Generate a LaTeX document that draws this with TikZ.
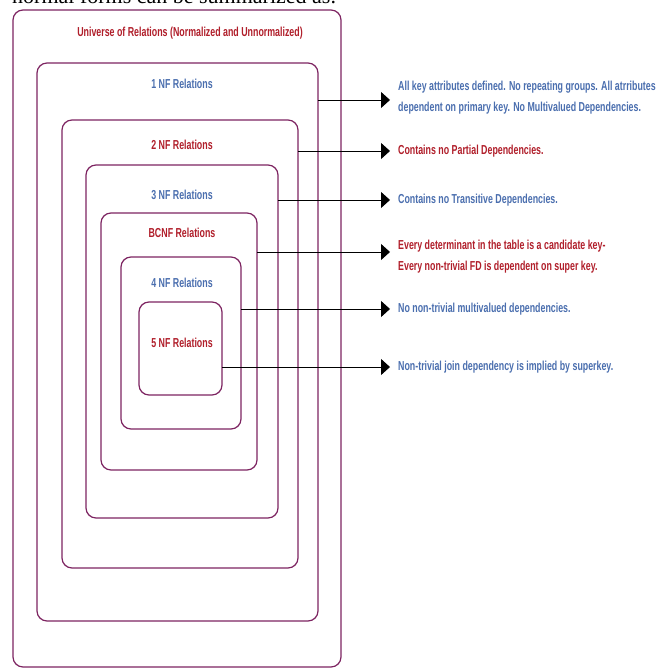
\documentclass[tikz,border=0pt]{standalone}
\usepackage{fontspec}
\setmainfont{Liberation Serif}
\newfontfamily\narrowsans[FakeStretch=0.68]{Liberation Sans Bold}
\usepackage{xcolor}
\usetikzlibrary{arrows.meta}
\definecolor{boxpurple}{HTML}{7D2461}
\definecolor{nfblue}{HTML}{4A6EAE}
\definecolor{nfred}{HTML}{B01E2A}
\tikzset{
  relbox/.style={draw=boxpurple, line width=1.2pt, rounded corners=10pt, inner sep=0pt, outer sep=0pt},
  redlbl/.style={text=nfred, font=\narrowsans\fontsize{13}{15}\selectfont, inner sep=0pt},
  bluelbl/.style={text=nfblue, font=\narrowsans\fontsize{13}{15}\selectfont, inner sep=0pt},
  desc/.style={anchor=west, align=left, inner xsep=8pt, inner ysep=0pt, font=\narrowsans\fontsize{13}{21}\selectfont},
  conn/.style={-{Triangle[length=9pt,width=16pt]}, line width=0.9pt, black},
}
\begin{document}
\begin{tikzpicture}[x=1pt, y=-1pt]
  \useasboundingbox (0,0) rectangle (672,668);
  \node[anchor=base west, inner sep=0pt, font=\fontsize{22}{24}\selectfont] (intro) at (12,4) {normal forms can be summarized as.};
  % nested normal form boxes
  \node[relbox, minimum width=328pt, minimum height=657pt] (univ) at (177,338.5) {};
  \node[relbox, minimum width=281pt, minimum height=558pt] (nfone) at (177.5,342) {};
  \node[relbox, minimum width=236pt, minimum height=448pt] (nftwo) at (180,344) {};
  \node[relbox, minimum width=192pt, minimum height=353pt] (nfthree) at (182,341.5) {};
  \node[relbox, minimum width=156pt, minimum height=257pt] (bcnf) at (179,341.5) {};
  \node[relbox, minimum width=120pt, minimum height=172pt] (nffour) at (181,343) {};
  \node[relbox, minimum width=83pt, minimum height=93pt] (nffive) at (180.5,348.5) {};
  % box titles
  \node[redlbl] (univlbl) at (190,33) {Universe of Relations (Normalized and Unnormalized)};
  \node[bluelbl] (nfonelbl) at (182,84) {1 NF Relations};
  \node[redlbl] (nftwolbl) at (182,145) {2 NF Relations};
  \node[bluelbl] (nfthreelbl) at (182,195) {3 NF Relations};
  \node[redlbl] (bcnflbl) at (182,233) {BCNF Relations};
  \node[bluelbl] (nffourlbl) at (182,283) {4 NF Relations};
  \node[redlbl] (nffivelbl) at (182,343) {5 NF Relations};
  % descriptions
  \node[desc, text=nfblue] (dnfone) at (390,98) {All key attributes defined. No repeating groups. All atrributes\\dependent on primary key. No Multivalued Dependencies.};
  \node[desc, text=nfred] (dnftwo) at (390,151) {Contains no Partial Dependencies.};
  \node[desc, text=nfblue] (dnfthree) at (390,200) {Contains no Transitive Dependencies.};
  \node[desc, text=nfred] (dbcnf) at (390,257) {Every determinant in the table is a candidate key-\\Every non-trivial FD is dependent on super key.};
  \node[desc, text=nfblue] (dnffour) at (390,309) {No non-trivial multivalued dependencies.};
  \node[desc, text=nfblue] (dnffive) at (390,367) {Non-trivial join dependency is implied by superkey.};
  % connectors
  \draw[conn] (nfone.east |- 0,100) -- ([yshift=-2pt]dnfone.west);
  \draw[conn] (nftwo.east |- dnftwo.west) -- (dnftwo.west);
  \draw[conn] (nfthree.east |- dnfthree.west) -- (dnfthree.west);
  \draw[conn] (bcnf.east |- 0,252) -- ([yshift=5pt]dbcnf.west);
  \draw[conn] (nffour.east |- dnffour.west) -- (dnffour.west);
  \draw[conn] (nffive.east |- dnffive.west) -- (dnffive.west);
\end{tikzpicture}
\end{document}
